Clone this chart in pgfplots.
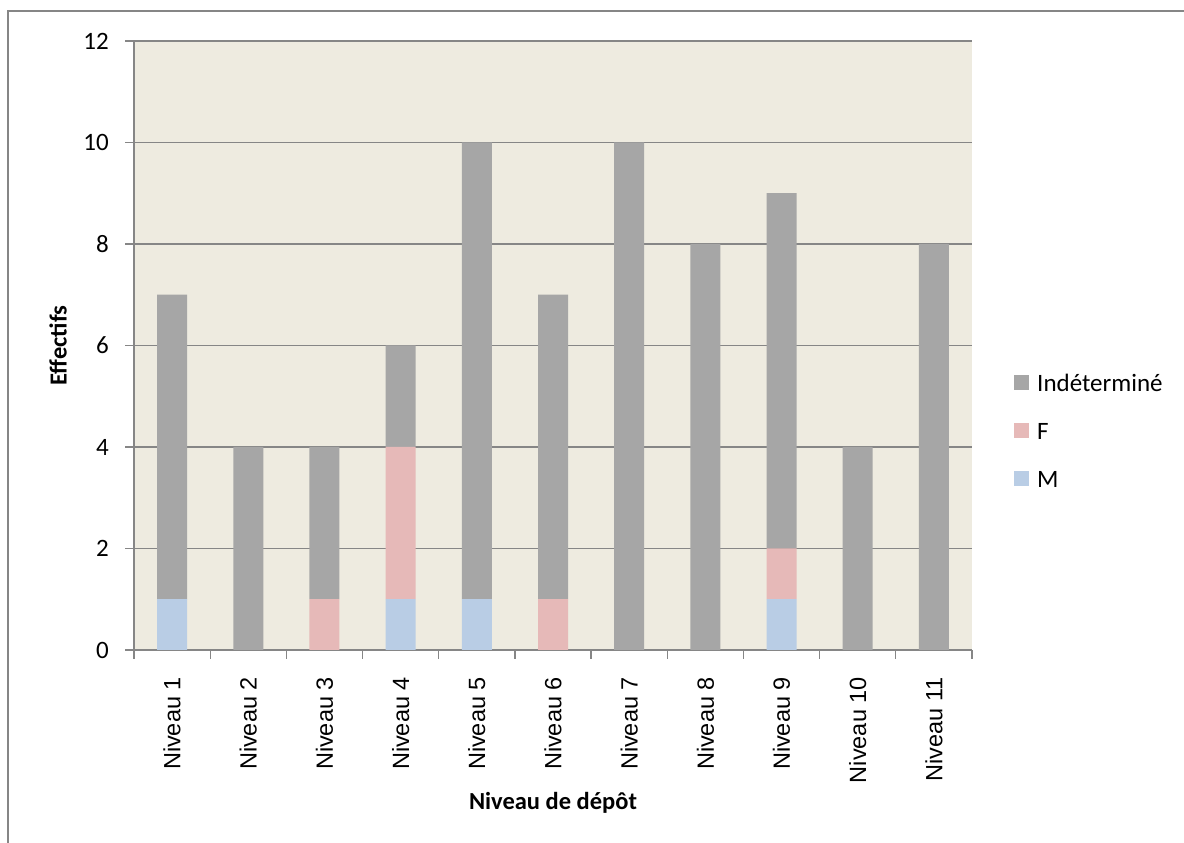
\documentclass[border=0pt]{standalone}
\usepackage{pgfplots}
\pgfplotsset{compat=1.18}
\usepackage{fontspec}
\setmainfont{Carlito}
\newfontfamily\arialf{Liberation Sans}
\definecolor{bgc}{HTML}{EEEBE0}
\definecolor{cgray}{HTML}{A6A6A6}
\definecolor{cpink}{HTML}{E6B9B8}
\definecolor{cblue}{HTML}{B9CDE5}
\definecolor{gridc}{HTML}{868686}
\begin{document}
\begin{tikzpicture}[x=1pt,y=1pt]
\path[use as bounding box] (0,0) rectangle (1184,843);
\draw[gridc,line width=2pt] (8,0) -- (8,832) -- (1184,832);
\begin{axis}[
  at={(134pt,193pt)}, anchor=south west,
  scale only axis, width=838pt, height=609pt,
  xmin=0.5, xmax=11.5, ymin=0, ymax=12,
  ybar stacked, bar width=30pt,
  axis background/.style={fill=bgc},
  axis x line=bottom, axis y line=left,
  axis line style={gridc,line width=1.2pt,-},
  xtick={1,...,11},
  xticklabels={Niveau 1,Niveau 2,Niveau 3,Niveau 4,Niveau 5,Niveau 6,Niveau 7,Niveau 8,Niveau 9,Niveau 10,Niveau 11},
  minor xtick={0.5,1.5,...,11.5},
  major x tick style={draw=none},
  minor x tick style={gridc,line width=1.2pt},
  minor tick length=9pt,
  xtick align=outside,
  x tick label style={rotate=90,anchor=east,font=\arialf\fontsize{23.5}{26}\selectfont,inner sep=0pt,xshift=-18pt},
  ytick={0,2,...,12},
  ytick align=outside, major tick length=9pt,
  y tick style={gridc,line width=1.2pt},
  y tick label style={font=\fontsize{25}{28}\selectfont,inner sep=0pt,xshift=-16pt},
  /pgf/number format/assume math mode=true,
  ymajorgrids, grid style={gridc,line width=1.2pt},
  xlabel={\textbf{Niveau de dépôt}},
  xlabel style={font=\fontsize{24.5}{28}\selectfont,at={(axis description cs:0.5,0)},anchor=center,yshift=-153pt},
  ylabel={\textbf{Effectifs}},
  ylabel style={font=\fontsize{24.5}{28}\selectfont,at={(axis description cs:0,0.5)},anchor=center,yshift=76pt},
]
\addplot[fill=cblue,draw=none] coordinates {(1,1) (2,0) (3,0) (4,1) (5,1) (6,0) (7,0) (8,0) (9,1) (10,0) (11,0)};
\addplot[fill=cpink,draw=none] coordinates {(1,0) (2,0) (3,1) (4,3) (5,0) (6,1) (7,0) (8,0) (9,1) (10,0) (11,0)};
\addplot[fill=cgray,draw=none] coordinates {(1,6) (2,4) (3,3) (4,2) (5,9) (6,6) (7,10) (8,8) (9,7) (10,4) (11,8)};
\end{axis}
% legend
\fill[cgray] (1014,452.5) rectangle (1029,467.5);
\node[anchor=west,inner sep=0pt,font=\fontsize{25}{28}\selectfont] at (1037,460) {Indéterminé};
\fill[cpink] (1014,404.5) rectangle (1029,419.5);
\node[anchor=west,inner sep=0pt,font=\fontsize{25}{28}\selectfont] at (1037,412) {F};
\fill[cblue] (1014,356.5) rectangle (1029,371.5);
\node[anchor=west,inner sep=0pt,font=\fontsize{25}{28}\selectfont] at (1037,364) {M};
\end{tikzpicture}
\end{document}
